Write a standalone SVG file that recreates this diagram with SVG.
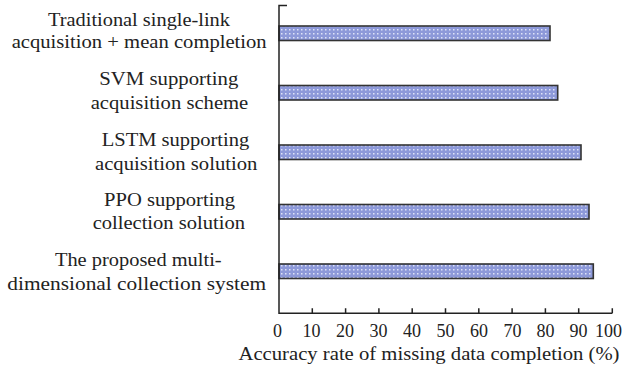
<svg xmlns="http://www.w3.org/2000/svg" width="626" height="377" viewBox="0 0 626 377">
<style>
.t{font-size:19px;fill:#222;text-anchor:middle}
.tk{font-size:18px}
.bar{fill:url(#dots);stroke:#333;stroke-width:1.6}
.ax{stroke:#222;stroke-width:1.5;fill:none}
</style>
<defs>
<pattern id="dots" width="4" height="4" patternUnits="userSpaceOnUse">
<rect width="4" height="4" fill="#8d99d9"/>
<rect x="1" y="1" width="1.5" height="1.5" fill="#dfe3f7"/>
</pattern>
</defs>
<rect width="626" height="377" fill="#fff"/>
<g class="t" font-family="'Liberation Serif', 'Times New Roman', Times, serif">
<g id="label1"><text x="139" y="26" textLength="182" lengthAdjust="spacingAndGlyphs">Traditional single-link</text><text x="139.2" y="48.3" textLength="255" lengthAdjust="spacingAndGlyphs">acquisition + mean completion</text></g>
<g id="label2"><text x="168.8" y="85.3" textLength="139" lengthAdjust="spacingAndGlyphs">SVM supporting</text><text x="169.5" y="108.5" textLength="157.6" lengthAdjust="spacingAndGlyphs">acquisition scheme</text></g>
<g id="label3"><text x="175.5" y="145.5" textLength="147.6" lengthAdjust="spacingAndGlyphs">LSTM supporting</text><text x="176.2" y="169.7" textLength="162.3" lengthAdjust="spacingAndGlyphs">acquisition solution</text></g>
<g id="label4"><text x="169.5" y="205.5" textLength="131" lengthAdjust="spacingAndGlyphs">PPO supporting</text><text x="168.8" y="229.3" textLength="152.3" lengthAdjust="spacingAndGlyphs">collection solution</text></g>
<g id="label5"><text x="138.3" y="265.5" textLength="166.7" lengthAdjust="spacingAndGlyphs">The proposed multi-</text><text x="136.7" y="289.7" textLength="258.7" lengthAdjust="spacingAndGlyphs">dimensional collection system</text></g>
<g id="ticks">
<text class="tk" x="277.5" y="337">0</text>
<text class="tk" x="311.5" y="337">10</text>
<text class="tk" x="345" y="337">20</text>
<text class="tk" x="378.5" y="337">30</text>
<text class="tk" x="412" y="337">40</text>
<text class="tk" x="445.5" y="337">50</text>
<text class="tk" x="479" y="337">60</text>
<text class="tk" x="512.5" y="337">70</text>
<text class="tk" x="545.5" y="337">80</text>
<text class="tk" x="578.5" y="337">90</text>
<text class="tk" x="608.5" y="337">100</text>
</g>
<text id="xtitle" x="429" y="360" textLength="381" lengthAdjust="spacingAndGlyphs">Accuracy rate of missing data completion (%)</text>
</g>
<g id="bars">
<rect id="bar1" class="bar" x="279" y="26" width="271" height="14.5"/>
<rect id="bar2" class="bar" x="279" y="85.5" width="278.7" height="14.5"/>
<rect id="bar3" class="bar" x="279" y="145" width="302" height="14.5"/>
<rect id="bar4" class="bar" x="279" y="204.5" width="310" height="14.5"/>
<rect id="bar5" class="bar" x="279" y="264" width="314.3" height="14.5"/>
</g>
<g id="axes">
<path class="ax" d="M287 5.5H279V313.3H612.3"/>
<path class="ax" d="M312.3 313.3v-5M345.6 313.3v-5M378.9 313.3v-5M412.2 313.3v-5M445.5 313.3v-5M478.8 313.3v-5M512.1 313.3v-5M545.4 313.3v-5M578.7 313.3v-5M612.3 313.3v-5"/>
</g>
</svg>
